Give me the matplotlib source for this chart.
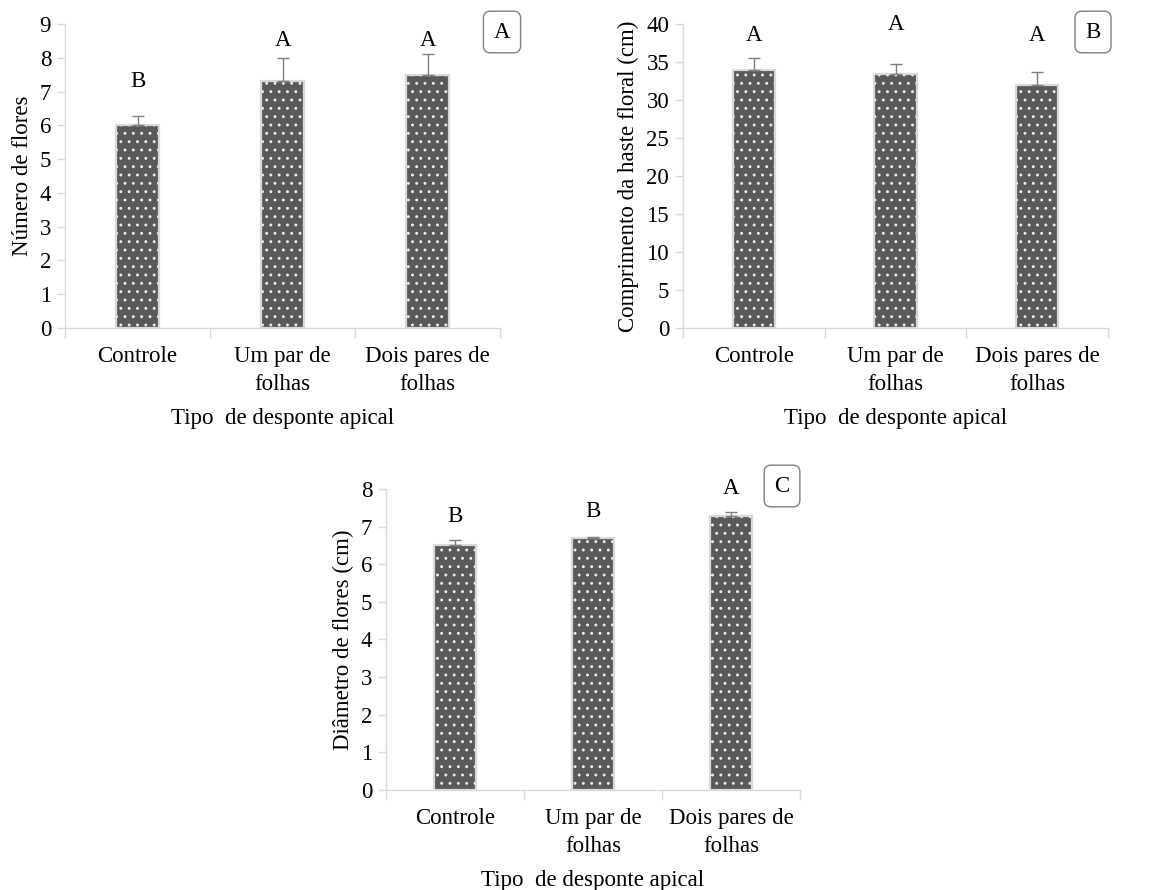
import matplotlib
matplotlib.use("Agg")
import matplotlib.pyplot as plt
import numpy as np

plt.rcParams['font.family'] = ['Liberation Serif', 'DejaVu Serif']
plt.rcParams['hatch.linewidth'] = 0.9

categories = ["Controle", "Um par de\nfolhas", "Dois pares de\nfolhas"]

flores = [6.0, 7.3, 7.5]
flores_err = [0.27, 0.7, 0.6]
flores_letters = ["B", "A", "A"]
flores_letter_y = [7.3, 8.5, 8.5]

haste = [34.0, 33.4, 32.0]
haste_err = [1.5, 1.4, 1.7]
haste_letters = ["A", "A", "A"]
haste_letter_y = [38.5, 39.9, 38.5]

diametro = [6.5, 6.7, 7.27]
diametro_err = [0.15, 0.03, 0.12]
diametro_letters = ["B", "B", "A"]
diametro_letter_y = [7.27, 7.4, 8.0]

BAR = "#595959"
EDGE = "#d9d9d9"
ERR = "#7f7f7f"
FS = 16.5

fig = plt.figure(figsize=(11.53, 8.9), dpi=100)

def panel(rect, vals, errs, letters, ly, ymax, ystep, ylabel, tag, tagpos):
    ax = fig.add_axes(rect)
    x = np.arange(len(vals))
    ax.bar(x, vals, width=0.3, color=BAR, edgecolor="#eeeeee", hatch="..", linewidth=0, zorder=2)
    ax.bar(x, vals, width=0.3, facecolor="none", edgecolor=EDGE, linewidth=1.6, zorder=3)
    ax.errorbar(x, vals, yerr=[np.zeros(len(vals)), errs], fmt="none", ecolor=ERR,
                elinewidth=1, capsize=4, capthick=1, zorder=4)
    for xi, t, yy in zip(x, letters, ly):
        ax.text(xi, yy, t, ha="center", va="center", fontsize=FS)
    ax.set_xlim(-0.5, len(vals) - 0.5)
    ax.set_ylim(0, ymax)
    ax.set_yticks(np.arange(0, ymax + 0.001, ystep))
    ax.set_xticks(x)
    ax.set_xticklabels(categories, fontsize=FS, linespacing=1.45)
    ax.set_xticks(np.arange(-0.5, len(vals), 1.0), minor=True)
    ax.tick_params(axis="x", which="major", length=0, pad=13)
    ax.tick_params(axis="x", which="minor", length=7, color=EDGE, width=1)
    ax.tick_params(axis="y", length=6, color=EDGE, width=1, labelsize=FS, pad=4)
    for s in ["top", "right"]:
        ax.spines[s].set_visible(False)
    for s in ["left", "bottom"]:
        ax.spines[s].set_color(EDGE)
        ax.spines[s].set_linewidth(1)
    ax.set_ylabel(ylabel, fontsize=FS, labelpad=5)
    ax.set_xlabel("Tipo  de desponte apical", fontsize=FS, labelpad=9)
    fig.text(tagpos[0], tagpos[1], tag, fontsize=FS, ha="center", va="center",
             bbox=dict(boxstyle="round,pad=0.45,rounding_size=0.3", fc="white", ec="#7f7f7f", lw=1))
    return ax

panel([0.0564, 0.6315, 0.3773, 0.3415], flores, flores_err, flores_letters, flores_letter_y,
      9, 1, "Número de flores", "A", (502 / 1153, 1 - 32 / 890))
panel([0.5924, 0.6315, 0.3686, 0.3415], haste, haste_err, haste_letters, haste_letter_y,
      40, 5, "Comprimento da haste floral (cm)", "B", (1093 / 1153, 1 - 32 / 890))
panel([0.3348, 0.1124, 0.3590, 0.3382], diametro, diametro_err, diametro_letters, diametro_letter_y,
      8, 1, "Diâmetro de flores (cm)", "C", (782 / 1153, 1 - 486 / 890))

fig.savefig("out.png", dpi=100, facecolor="white")
